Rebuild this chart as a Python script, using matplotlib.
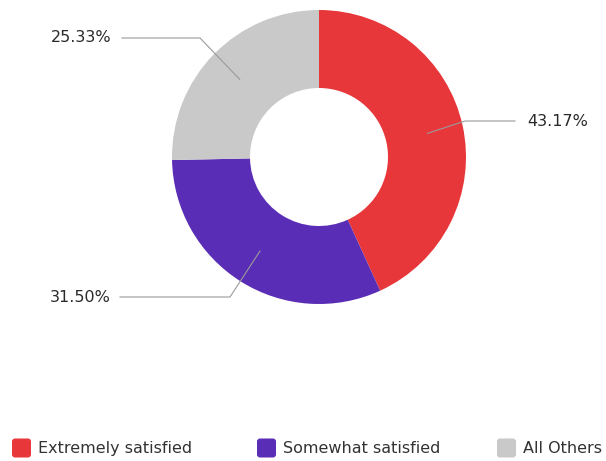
import matplotlib.pyplot as plt
import numpy as np
from matplotlib.patches import FancyBboxPatch

# Data
labels = ['Extremely satisfied', 'Somewhat satisfied', 'All Others']
values = [43.17, 31.50, 25.33]
colors = ['#E8373A', '#5A2DB6', '#C9C9C9']

W, H = 606, 461
plt.rcParams['font.family'] = ['DejaVu Sans']

fig = plt.figure(figsize=(W / 100, H / 100), dpi=100)
ax = fig.add_axes([0, 0, 1, 1])
ax.set_xlim(0, W)
ax.set_ylim(0, H)
ax.set_aspect('equal')
ax.axis('off')

cx, cy = 319, H - 157
r_out, r_in = 147, 69
wedges, _ = ax.pie(values, colors=colors, startangle=90, counterclock=False,
                   radius=r_out, center=(cx, cy),
                   wedgeprops=dict(width=r_out - r_in, linewidth=0))
ax.set_xlim(0, W)
ax.set_ylim(0, H)

# Label layout: (text y, elbow x, line end x, text x, alignment)
label_pos = [
    (H - 121, 465, 515, 527, 'left'),
    (H - 297, 230, 120, 111, 'right'),
    (H - 38, 200, 122, 111, 'right'),
]
r_anchor = 111
for w, v, (ty, ex, lx, tx, ha) in zip(wedges, values, label_pos):
    ang = np.deg2rad((w.theta1 + w.theta2) / 2)
    ax0 = cx + r_anchor * np.cos(ang)
    ay0 = cy + r_anchor * np.sin(ang)
    ax.plot([ax0, ex, lx], [ay0, ty, ty], color='#9a9a9a', lw=0.8)
    ax.text(tx, ty, f'{v:.2f}%', ha=ha, va='center', fontsize=11.5,
            color='#2a2a2a')

# Legend
leg_x = [12, 257, 497]
leg_y = H - 448
for x, c, lab in zip(leg_x, colors, labels):
    box = FancyBboxPatch((x, leg_y - 9.5), 19, 19,
                         boxstyle='round,pad=0,rounding_size=3',
                         fc=c, ec='none')
    ax.add_patch(box)
    ax.text(x + 26, leg_y, lab, ha='left', va='center', fontsize=11.5,
            color='#333333')

fig.savefig('out.png', dpi=100, facecolor='white')
